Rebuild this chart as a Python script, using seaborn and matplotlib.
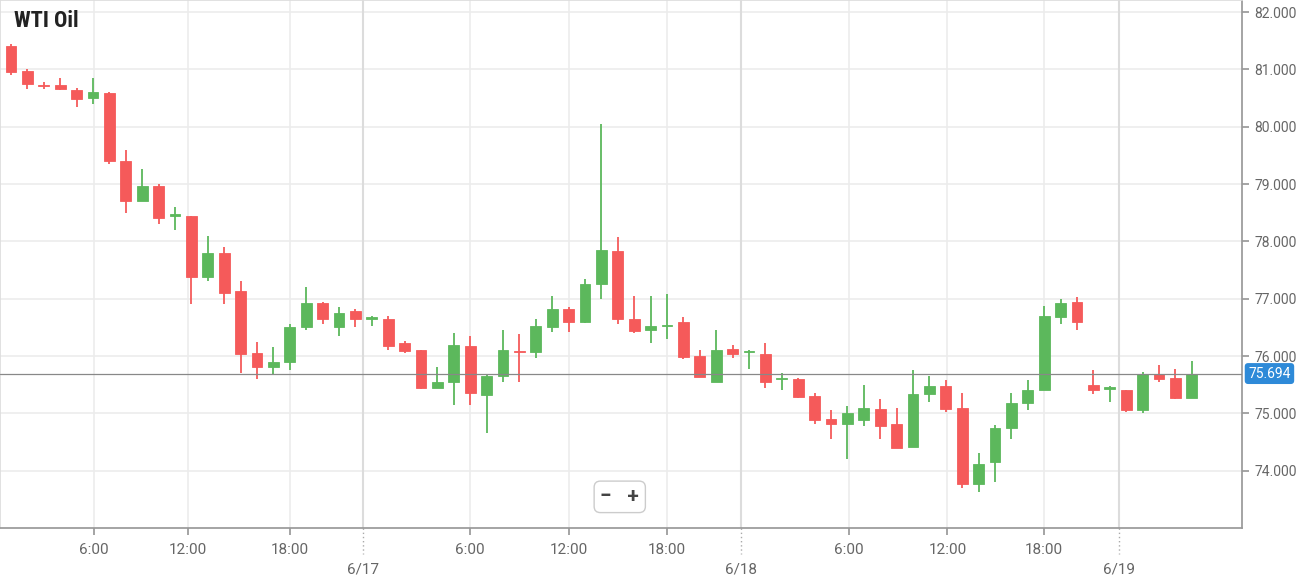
import matplotlib
matplotlib.use("Agg")
import matplotlib.pyplot as plt
import seaborn as sns
import numpy as np

opens  = [81.40,80.97,80.72,80.72,80.64,80.50,80.58,79.40,78.70,78.96,78.45,78.45,77.38,77.80,77.13,76.05,75.80,75.90,76.50,76.92,
          76.50,76.78,76.65,76.65,76.22,76.10,75.45,75.55,76.17,75.32,75.65,76.08,76.07,76.50,76.82,76.60,77.25,77.83,76.65,76.45,
          76.52,76.60,76.00,75.55,76.13,76.07,76.03,75.60,75.60,75.30,74.90,74.82,74.88,75.08,74.82,74.42,75.33,75.47,75.10,73.77,
          74.15,74.75,75.18,75.40,76.68,76.95,75.50,75.43,75.40,75.05,75.69,75.62,75.27]
closes = [80.95,80.75,80.71,80.65,80.48,80.60,79.40,78.70,78.96,78.40,78.46,77.37,77.80,77.10,76.03,75.80,75.90,76.50,76.92,76.65,
          76.75,76.65,76.66,76.18,76.08,75.45,75.55,76.20,75.35,75.65,76.10,76.07,76.52,76.82,76.60,77.25,77.85,76.65,76.43,76.52,
          76.53,75.98,75.63,76.10,76.03,76.08,75.55,75.61,75.28,74.88,74.82,75.00,75.10,74.78,74.40,75.33,75.47,75.07,73.77,74.12,
          74.75,75.18,75.40,76.70,76.93,76.60,75.40,75.44,75.05,75.69,75.60,75.27,75.69]
highs  = [81.45,81.00,80.78,80.85,80.68,80.85,80.60,79.60,79.27,79.00,78.60,78.45,78.10,77.90,77.30,76.25,76.15,76.55,77.20,76.95,
          76.85,76.82,76.70,76.70,76.27,76.10,75.80,76.40,76.35,75.68,76.45,76.38,76.65,77.05,76.85,77.35,80.05,78.08,77.05,77.05,
          77.08,76.68,76.10,76.45,76.20,76.10,76.22,75.70,75.62,75.35,75.05,75.13,75.50,75.25,75.10,75.75,75.65,75.58,75.35,74.30,
          74.80,75.35,75.58,76.88,77.00,77.03,75.75,75.47,75.40,75.72,75.85,75.78,75.92]
lows   = [80.90,80.65,80.65,80.64,80.35,80.40,79.35,78.50,78.70,78.30,78.20,76.90,77.30,76.90,75.70,75.60,75.68,75.75,76.45,76.55,
          76.35,76.50,76.52,76.10,76.05,75.42,75.45,75.15,75.15,74.65,75.55,75.55,75.97,76.42,76.42,76.58,77.00,76.55,76.40,76.22,
          76.30,75.95,75.63,75.55,75.97,75.77,75.45,75.40,75.27,74.82,74.55,74.20,74.78,74.55,74.40,74.42,75.20,75.02,73.70,73.62,
          73.80,74.55,75.05,75.40,76.55,76.45,75.33,75.20,75.03,75.00,75.55,75.25,75.27]
time_labels = ["6:00","12:00","18:00","6:00","12:00","18:00","6:00","12:00","18:00"]
time_pos    = [5.06,10.8,17.0,28.0,34.0,40.0,51.1,57.1,63.0]
date_labels = ["6/17","6/18","6/19"]
date_pos    = [21.46,44.5,67.56]
y_ticks = [74,75,76,77,78,79,80,81,82]
last_price = 75.694

sns.set_theme(style="white")
plt.rcParams['font.family'] = ['Roboto', 'DejaVu Sans']

fig = plt.figure(figsize=(12.98, 5.8), dpi=100)
ax = fig.add_axes([0.0, 1-528/580, 1242/1298, 528/580])
RED, GREEN = "#f55a5a", "#5cb85c"
idx = np.arange(len(opens))
o, c, h, l = map(np.array, (opens, closes, highs, lows))
cols = [GREEN if cc >= oo else RED for oo, cc in zip(o, c)]
ax.vlines(idx, l, h, colors=cols, linewidth=1.3, zorder=3)
bottom = np.minimum(o, c)
height = np.maximum(np.abs(c - o), 0.025)
ax.bar(idx, height, bottom=bottom, width=0.65, color=cols, edgecolor=cols, linewidth=0.6, zorder=4)

ax.set_xlim(-0.67, 75.06)
ax.set_ylim(73.0, 82.21)
for yv in y_ticks:
    ax.axhline(yv, color="#ececec", lw=1.2, zorder=0)
for xv in time_pos:
    ax.axvline(xv, color="#ececec", lw=1.2, zorder=0)
for xv in date_pos:
    ax.axvline(xv, color="#dcdcdc", lw=1.5, zorder=0)
ax.axhline(last_price, color="#888888", lw=0.9, zorder=5)

ax.yaxis.tick_right()
ax.set_yticks(y_ticks)
ax.set_yticklabels([f"{v:.3f}" for v in y_ticks], fontsize=10, color="#666666")
ax.tick_params(axis="y", length=5, color="#999999", pad=4, right=True)
ax.set_xticks(time_pos)
ax.set_xticklabels(time_labels, fontsize=11, color="#666666")
ax.tick_params(axis="x", length=5, color="#999999", pad=6, bottom=True)
for xv, lab in zip(date_pos, date_labels):
    ax.annotate(lab, (xv, 0), xycoords=("data", "axes fraction"), xytext=(0, -33),
                textcoords="offset points", ha="center", fontsize=11, color="#666666")
    ax.plot([xv, xv], [0, -0.05], transform=ax.get_xaxis_transform(), color="#aaaaaa",
            lw=1, ls=(0, (1, 2)), clip_on=False)
for side in ["top", "left"]:
    ax.spines[side].set_color("#dddddd")
for side in ["right", "bottom"]:
    ax.spines[side].set_color("#999999")

ax.text(1.005, last_price, f"{last_price:.3f}", transform=ax.get_yaxis_transform(),
        va="center", ha="left", fontsize=10, color="white",
        bbox=dict(boxstyle="round,pad=0.25", fc="#2e8ad8", ec="none"), clip_on=False)
ax.text(0.011, 0.96, "WTI Oil", transform=ax.transAxes, fontsize=16, fontweight="bold",
        color="#222222", va="center", ha="left", family=['Roboto Condensed', 'Roboto', 'DejaVu Sans'])
ax.text(0.499, 0.059, "−   +", transform=ax.transAxes, fontsize=15, fontweight="bold",
        color="#444444", va="center", ha="center",
        bbox=dict(boxstyle="round,pad=0.3", fc="white", ec="#cccccc"))
fig.savefig("out.png", dpi=100)
